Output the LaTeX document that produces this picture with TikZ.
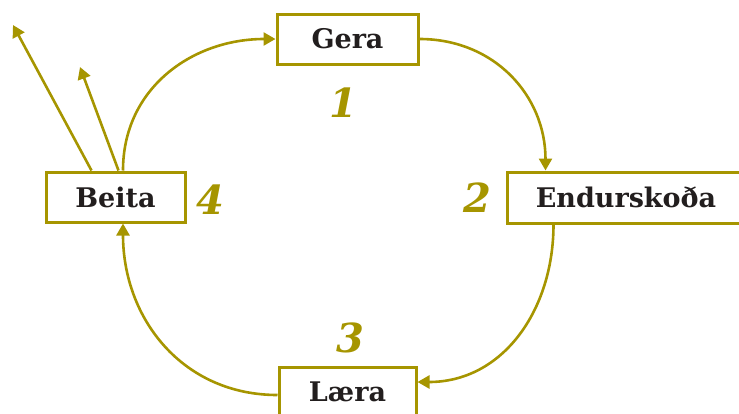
\documentclass[tikz,border=0pt]{standalone}
\usepackage{fontspec}
\setmainfont{DejaVu Serif}
\usetikzlibrary{arrows.meta,calc}
\definecolor{olive}{RGB}{166,149,0}
\definecolor{ink}{RGB}{34,30,30}
\tikzset{
  stepbox/.style={draw=olive,line width=3pt,fill=white,inner sep=0pt,
    font=\bfseries\fontsize{27}{29}\selectfont,text=ink},
  conn/.style={draw=olive,line width=2.6pt,-{Triangle[length=12pt,width=13pt]}},
  num/.style={font=\bfseries\itshape\fontsize{40}{42}\selectfont,text=olive}
}
\begin{document}
\begin{tikzpicture}[x=1pt,y=-1pt]
\useasboundingbox (0,0) rectangle (739,413);
\clip (0,0) rectangle (739,413);
\node[stepbox,minimum width=141pt,minimum height=50pt] (G) at (347.5,39) {Gera};
\node[stepbox,minimum width=238pt,minimum height=51pt] (E) at (626,197.5) {Endurskoða};
\node[stepbox,minimum width=139pt,minimum height=50pt] (B) at (115.5,197) {Beita};
\node[stepbox,minimum width=137pt,minimum height=50pt] (L) at (347.5,392) {Læra};
\node[num] (n1) at (343,103) {1};
\node[num] (n2) at (477,198) {2};
\node[num] (n3) at (350,338) {3};
\node[num] (n4) at (210,200) {4};
\coordinate (t1) at (13,25);
\coordinate (t2) at (80,67);
\draw[conn] (G.east) to[out=0,in=90,looseness=1.05] ($(E.north west)+(40,0)$);
\draw[conn] ($(E.south west)+(48,0)$) to[out=-90,in=0,looseness=1.05] ($(L.east)+(0,-10)$);
\draw[conn] ($(L.west)+(0,3)$) to[out=180,in=-90,looseness=1.05] ($(B.south)+(7.5,0)$);
\draw[conn] ($(B.north)+(7.5,0)$) to[out=90,in=180,looseness=1.05] (G.west);
\draw[conn] ($(B.north west)+(47,0)$) -- (t1);
\draw[conn] ($(B.north west)+(74,0)$) -- (t2);
\end{tikzpicture}
\end{document}
